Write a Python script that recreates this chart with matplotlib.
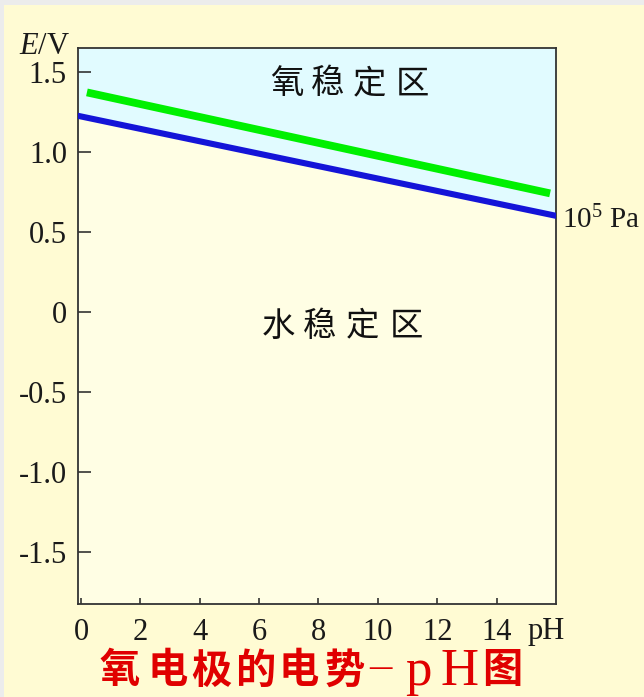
import matplotlib
matplotlib.use("Agg")
import matplotlib.pyplot as plt
from matplotlib.patches import Rectangle
import numpy as np

plt.rcParams['mathtext.fontset'] = 'custom'
plt.rcParams['mathtext.rm'] = 'Liberation Serif'
plt.rcParams['mathtext.it'] = 'Liberation Serif:italic'

# Data: electrode potential vs pH
ph_h2o = [0.0, 16.0]          # O2/H2O line at 10^5 Pa
e_h2o = [1.22, 0.60]
ph_o2 = [0.2, 15.8]           # upper (green) line
e_o2 = [1.37, 0.74]

x_ticks = [0, 2, 4, 6, 8, 10, 12, 14]
y_ticks = [1.5, 1.0, 0.5, 0.0, -0.5, -1.0, -1.5]
y_tick_labels = ["1.5", "1.0", "0.5", "0", "-0.5", "-1.0", "-1.5"]

upper_region = "氧稳定区"
lower_region = "水稳定区"
title_chars = ["氧", "电", "极", "的", "电", "势"]

W, H = 644, 697
fig = plt.figure(figsize=(W / 100, H / 100), dpi=100)
fig.patch.set_facecolor("#ECECEC")
fig.patches.append(Rectangle((4 / W, 0), 1, (H - 5) / H, transform=fig.transFigure,
                             facecolor="#FFFBD3", edgecolor="none", zorder=-10))


def fx(x):
    return x / W


def fy(y):
    return 1 - y / H


left, right, top, bottom = 78, 556, 48, 604
ax = fig.add_axes([fx(left), fy(bottom), (right - left) / W, (bottom - top) / H])
ax.set_xlim(-0.1, 16.0)
ax.set_ylim(-1.822, 1.647)

# Shaded stability regions split by the O2/H2O line
xs = np.array([-0.1, 16.0])
slope = (e_h2o[1] - e_h2o[0]) / (ph_h2o[1] - ph_h2o[0])
boundary = e_h2o[0] + slope * (xs - ph_h2o[0])
ax.fill_between(xs, boundary, 1.647, color="#E1FBFF", lw=0, zorder=0)
ax.fill_between(xs, -1.822, boundary, color="#FFFEE4", lw=0, zorder=0)

ax.plot(ph_o2, e_o2, color="#00F000", lw=5.6, solid_capstyle="butt", zorder=3)
ax.plot(xs, boundary, color="#1414D8", lw=4.4, solid_capstyle="round", zorder=3)

for sp in ax.spines.values():
    sp.set_color("#333333")
    sp.set_linewidth(1.3)

ax.set_xticks(x_ticks)
ax.set_xticklabels([str(v) for v in x_ticks])
ax.set_yticks(y_ticks)
ax.set_yticklabels(y_tick_labels)
ax.tick_params(axis="x", direction="in", length=4.5, width=1.1, pad=10,
               labelsize=22, colors="#222222")
ax.tick_params(axis="y", direction="in", length=9.5, width=1.1, pad=8,
               labelsize=22, colors="#222222")
for lab in ax.get_xticklabels() + ax.get_yticklabels():
    lab.set_fontfamily("Liberation Serif")
    lab.set_color("#1a1a1a")

# Axis labels
fig.text(fx(45), fy(46), r"$E$/V", fontsize=22, family="Liberation Serif",
         ha="center", va="center", color="#1a1a1a")
fig.text(fx(546), fy(632), "pH", fontsize=22, family="Liberation Serif",
         ha="center", va="center", color="#1a1a1a")
fig.text(fx(562), fy(220), r"10$^{5}$ Pa", fontsize=21, family="Liberation Serif",
         ha="left", va="center", color="#1a1a1a")

# Region labels
for ch, cx in zip(upper_region, [287, 328, 369, 412]):
    fig.text(fx(cx), fy(84), ch, fontsize=24, family="Noto Sans CJK SC",
             fontweight="medium", ha="center", va="center", color="#111111")
for ch, cx in zip(lower_region, [278, 320, 362, 406]):
    fig.text(fx(cx), fy(326), ch, fontsize=24, family="Noto Sans CJK SC",
             fontweight="medium", ha="center", va="center", color="#111111")

# Caption
red = "#E00000"
for ch, cx in zip(title_chars, [120, 168, 211, 255, 299, 345]):
    fig.text(fx(cx), fy(671), ch, fontsize=29, family="Noto Sans CJK SC",
             fontweight="bold", ha="center", va="center", color=red)
fig.text(fx(380), fy(667), "–", fontsize=32, family="Liberation Serif",
         ha="center", va="center", color=red)
for piece, cx in zip(["p", "H"], [418, 460]):
    fig.text(fx(cx), fy(685), piece, fontsize=38, family="Liberation Serif",
             ha="center", va="baseline", color=red)
fig.text(fx(502), fy(671), "图", fontsize=29, family="Noto Sans CJK SC",
         fontweight="bold", ha="center", va="center", color=red)

fig.savefig("out.png", dpi=100)
